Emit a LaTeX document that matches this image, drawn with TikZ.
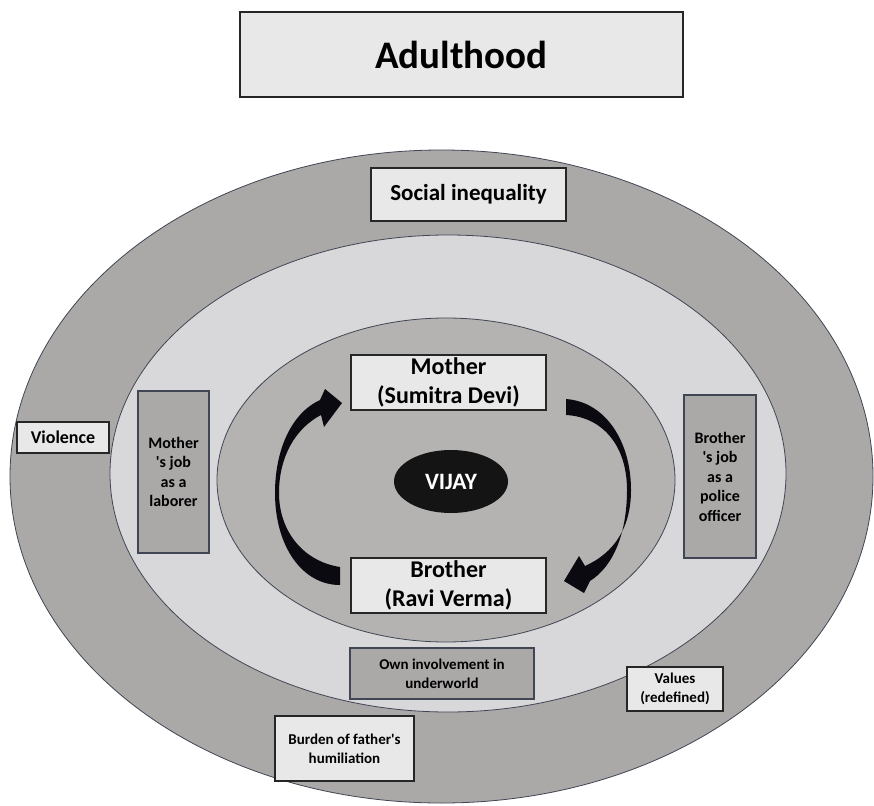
\documentclass[tikz,border=0pt]{standalone}
\usepackage{fontspec}
\setmainfont{Carlito}[Ligatures=TeXOff]
\usetikzlibrary{shapes.geometric}
\definecolor{ringdark}{RGB}{171,168,168}
\definecolor{ringlight}{RGB}{216,215,217}
\definecolor{coremid}{RGB}{181,179,178}
\definecolor{boxlight}{RGB}{232,232,232}
\definecolor{edgeslate}{RGB}{64,70,84}
\definecolor{arrowblack}{RGB}{10,10,16}
\begin{document}
\begin{tikzpicture}[x=1pt,y=-1pt,
  lbox/.style={draw=black!85, line width=1.2pt, fill=boxlight, align=center, inner sep=0pt},
  dbox/.style={draw=edgeslate, line width=1.2pt, fill=ringdark, align=center, inner sep=0pt},
  ring/.style={ellipse, draw=edgeslate, line width=0.8pt, inner sep=0pt},
  fbig/.style={font=\bfseries\fontsize{24}{29}\selectfont},
  fmid/.style={font=\bfseries\fontsize{16}{19.5}\selectfont},
  fsmall/.style={font=\bfseries\fontsize{15}{19}\selectfont}]
\fill[white] (0,0) rectangle (874,805);
\useasboundingbox (0,0) rectangle (874,805);

\node[lbox, minimum width=443pt, minimum height=85pt,
      font=\bfseries\fontsize{39}{46}\selectfont] (title) at (461.5,54.5) {Adulthood};

\node[ring, fill=ringdark, minimum width=863pt, minimum height=653pt] (outer) at (441.5,476.5) {};
\node[ring, fill=ringlight, minimum width=676pt, minimum height=477pt] (middle) at (448,473.5) {};
\node[ring, fill=coremid, minimum width=458pt, minimum height=324pt] (inner) at (446,480) {};

\node[lbox, minimum width=195pt, minimum height=53pt,
      font=\bfseries\fontsize{23}{28}\selectfont] (social) at (468.5,194.5) {Social inequality};
\node[lbox, minimum width=92pt, minimum height=31pt,
      font=\bfseries\fontsize{18}{22}\selectfont] (violence) at (63,437.5) {Violence};
\node[dbox, minimum width=71pt, minimum height=162pt, fmid] (mjob) at (173.5,472)
      {Mother\\'s job\\as a\\laborer};
\node[dbox, minimum width=72pt, minimum height=163pt, fmid] (bjob) at (720,476.5)
      {Brother\\'s job\\as a\\police\\officer};
\node[lbox, minimum width=195pt, minimum height=55pt, fbig] (mother) at (448.5,382.5)
      {Mother\\(Sumitra Devi)};
\node[lbox, minimum width=195pt, minimum height=55pt, fbig] (brother) at (448.5,585.5)
      {Brother\\(Ravi Verma)};
\node[ellipse, fill=black!92, inner sep=0pt, minimum width=114pt, minimum height=63pt,
      text=white, font=\bfseries\fontsize{23.5}{27}\selectfont] (vijay) at (451,481.5) {VIJAY};
\node[dbox, minimum width=184pt, minimum height=51pt, fsmall] (own) at (442,673.5)
      {Own involvement in\\underworld};
\node[lbox, minimum width=96pt, minimum height=44pt, fsmall] (values) at (675,689)
      {Values\\(redefined)};
\node[lbox, minimum width=139pt, minimum height=65pt, fsmall] (burden) at (344.5,748.5)
      {Burden of father's\\humiliation};

% left curved arrow: Brother -> Mother
\fill[arrowblack] (340,567) .. controls (302,561) and (279,530) .. (279,493)
  .. controls (279,456) and (296,428) .. (321,415)
  -- (324,427) -- (342,403) -- (325,389) -- (320,400)
  .. controls (290,414) and (275,452) .. (275,493)
  .. controls (275,546) and (302,585) .. (340,585) -- cycle;

% right curved arrow: Mother -> Brother
\fill[arrowblack] (566,399) .. controls (606,402) and (631,442) .. (631,490)
  .. controls (631,528) and (614,553) .. (585,566)
  -- (579,556) -- (564,581) -- (584,593) -- (590,581)
  .. controls (614,566) and (627,532) .. (627,490)
  .. controls (627,446) and (603,417) .. (566,415) -- cycle;
\end{tikzpicture}
\end{document}
